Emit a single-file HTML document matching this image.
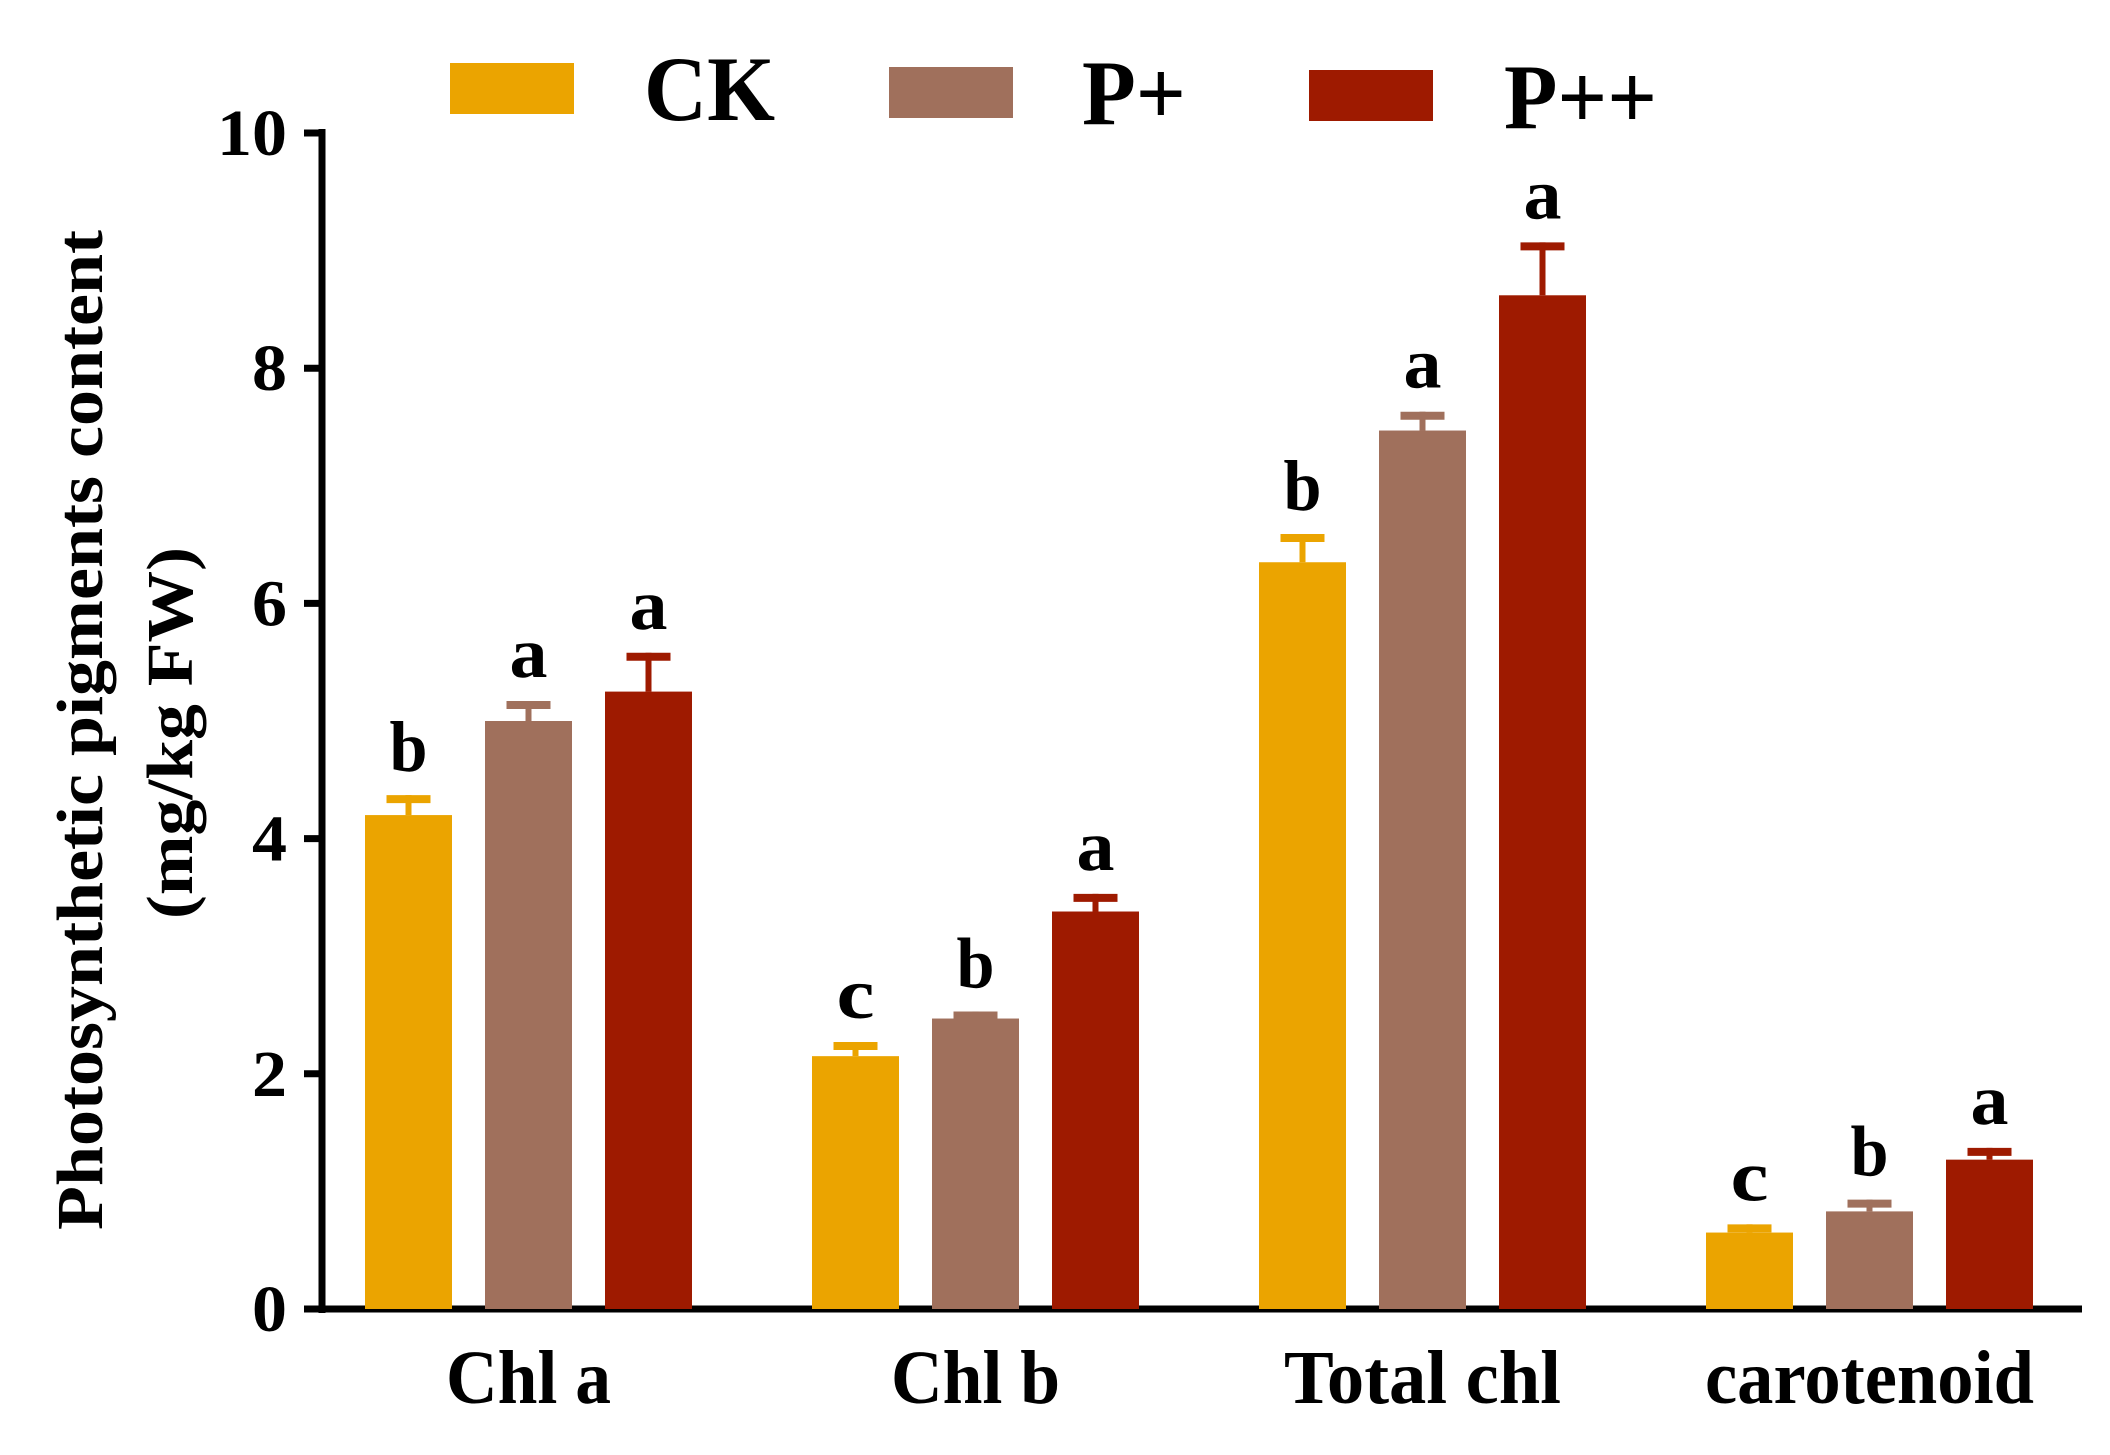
<!DOCTYPE html>
<html><head><meta charset="utf-8"><style>
html,body{margin:0;padding:0;background:#fff;}
svg{display:block;font-family:"Liberation Serif",serif;font-weight:bold;}
</style></head><body>
<svg id="chart" width="2110" height="1455" viewBox="0 0 2110 1455">
<g id="legend"></g>
<g id="axes"></g>
<g id="bars"></g>
<text transform="translate(102,730) rotate(-90)" text-anchor="middle" font-size="66" textLength="1000" lengthAdjust="spacingAndGlyphs">Photosynthetic pigments content</text>
<text transform="translate(192,733) rotate(-90)" text-anchor="middle" font-size="66" textLength="372" lengthAdjust="spacingAndGlyphs">(mg/kg FW)</text>
</svg>
<script>
const categories = ["Chl a", "Chl b", "Total chl", "carotenoid"];
const seriesNames = ["CK", "P+", "P++"];
const ckValues = [4.2, 2.15, 6.35, 0.65];
const pValues = [5.0, 2.47, 7.47, 0.83];
const ppValues = [5.25, 3.38, 8.62, 1.27];
const ckErr = [0.17, 0.12, 0.24, 0.07];
const pErr = [0.17, 0.06, 0.16, 0.1];
const ppErr = [0.33, 0.15, 0.45, 0.1];
const ckSig = ["b", "c", "b", "c"];
const pSig = ["a", "b", "a", "b"];
const ppSig = ["a", "a", "a", "a"];
const yTicks = [0, 2, 4, 6, 8, 10];

const NS = "http://www.w3.org/2000/svg";
const colors = ["#EBA400", "#A0705C", "#9E1A00"];
const x0 = 322, xEnd = 2082, yTop = 133, yBot = 1309, yMax = 10;
const groupStart = 365, groupStep = 447, barStep = 120, barW = 87;
function yScale(v){ return yBot - (v / yMax) * (yBot - yTop); }
function xBar(g, s){ return groupStart + g * groupStep + s * barStep; }
function mk(tag, attrs, parent){ const e = document.createElementNS(NS, tag); for (const k in attrs) e.setAttribute(k, attrs[k]); parent.appendChild(e); return e; }
function fitText(t, len){ t.setAttribute("textLength", len); t.setAttribute("lengthAdjust", "spacingAndGlyphs"); }

const axes = document.getElementById("axes");
const yAxis = mk("line", {x1:x0, y1:yTop-4, x2:x0, y2:yBot+4, stroke:"#000", "stroke-width":7}, axes);


const xAxis = mk("line", {x1:x0-3, y1:yBot, x2:xEnd, y2:yBot, stroke:"#000", "stroke-width":7}, axes);


yTicks.forEach(t => {
  const y = yScale(t);
  const tk = mk("line", {x1:x0-18, y1:y, x2:x0, y2:y, stroke:"#000", "stroke-width":7}, axes);
  
  
  const lb = mk("text", {x:287, y:y+22, "text-anchor":"end", "font-size":66}, axes);
  lb.textContent = t;
  fitText(lb, String(t).length * 35);
  
  
});
const xLabelLen = [165, 169, 277, 329];
categories.forEach((c, g) => {
  const cx = xBar(g, 1) + barW / 2;
  const lb = mk("text", {x:cx, y:1403, "text-anchor":"middle", "font-size":76}, axes);
  lb.textContent = c;
  fitText(lb, xLabelLen[g]);
  
  
});

const bars = document.getElementById("bars");
const vals = [ckValues, pValues, ppValues];
const errs = [ckErr, pErr, ppErr];
const sigs = [ckSig, pSig, ppSig];
categories.forEach((c, g) => {
  for (let s = 0; s < 3; s++) {
    const v = vals[s][g], e = errs[s][g];
    const x = xBar(g, s), y = yScale(v);
    const r = mk("rect", {x:x, y:y, width:barW, height:yBot - y, fill:colors[s]}, bars);
    
    
    const cx = x + barW / 2, ye = yScale(v + e);
    const el = mk("line", {x1:cx, y1:y, x2:cx, y2:ye, stroke:colors[s], "stroke-width":6}, bars);
    
    
    const cap = mk("line", {x1:cx-22, y1:ye+4, x2:cx+22, y2:ye+4, stroke:colors[s], "stroke-width":8}, bars);
    
    
    const t = mk("text", {x:cx, y:ye-24, "text-anchor":"middle", "font-size":72}, bars);
    t.textContent = sigs[s][g];
    fitText(t, 38);
    
    
  }
});

const legend = document.getElementById("legend");
const legRect = [[450, 63], [889, 67], [1309, 70]];
const legText = [[644, 120], [1082, 124], [1504, 128]];
const legLen = [131, 104, 153];
seriesNames.forEach((n, i) => {
  const r = mk("rect", {x:legRect[i][0], y:legRect[i][1], width:124, height:51, fill:colors[i]}, legend);
  
  
  const t = mk("text", {x:legText[i][0], y:legText[i][1], "font-size":92}, legend);
  t.textContent = n;
  fitText(t, legLen[i]);
  
  
});
</script>
</body></html>
